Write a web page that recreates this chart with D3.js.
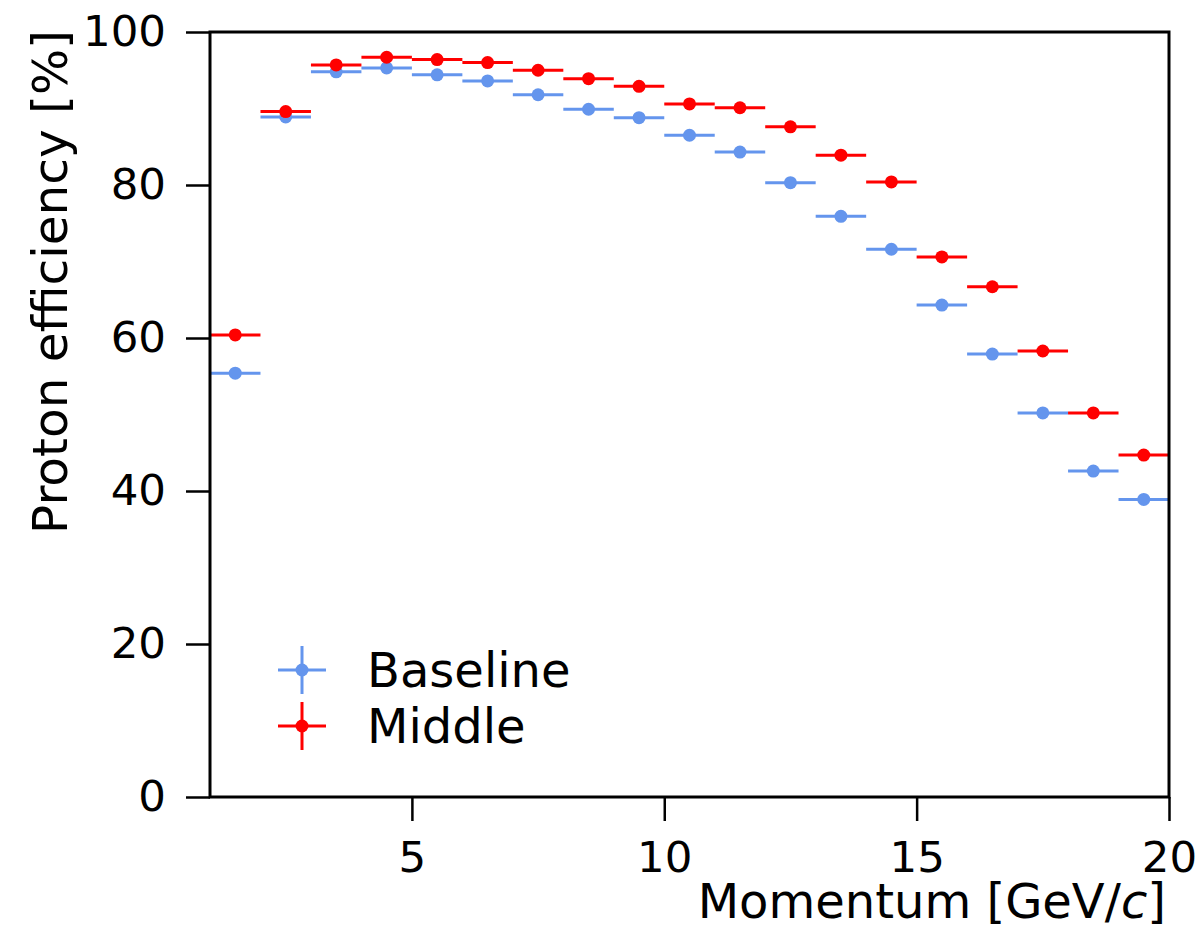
<!DOCTYPE html>
<html>
<head>
<meta charset="utf-8">
<script src="https://cdn.jsdelivr.net/npm/d3@7"></script>
<style>
  html, body { margin: 0; padding: 0; background: #fff; }
  svg { display: block; font-family: "DejaVu Sans", sans-serif; }
</style>
</head>
<body>
<svg id="chart" width="1203" height="930"></svg>
<script>
// Momentum bin centres [GeV/c]; each bin is 1 GeV/c wide
const momentum = [1.5, 2.5, 3.5, 4.5, 5.5, 6.5, 7.5, 8.5, 9.5, 10.5,
                  11.5, 12.5, 13.5, 14.5, 15.5, 16.5, 17.5, 18.5, 19.5];
const binHalfWidth = 0.5;

// Proton efficiency [%] per bin
const baseline = [55.4, 88.9, 94.8, 95.3, 94.4, 93.6, 91.8, 89.9, 88.8, 86.5,
                  84.3, 80.3, 75.9, 71.6, 64.3, 57.9, 50.2, 42.6, 38.9];
const middle   = [60.4, 89.6, 95.7, 96.7, 96.4, 96.0, 95.0, 93.9, 92.9, 90.6,
                  90.1, 87.6, 83.9, 80.4, 70.6, 66.7, 58.3, 50.2, 44.7];

const xTicks = [5, 10, 15, 20];
const yTicks = [0, 20, 40, 60, 80, 100];

const series = [
  { name: "Baseline", values: baseline, color: "#6495ED" },
  { name: "Middle",   values: middle,   color: "#FF0000" }
];

const svg = d3.select("#chart");
const plot = { left: 210, right: 1169, top: 32, bottom: 797 };

const x = d3.scaleLinear().domain([1, 20]).range([plot.left, plot.right]);
const y = d3.scaleLinear().domain([0, 100]).range([plot.bottom, plot.top]);

// Axes
const xAxis = svg.append("g")
  .attr("transform", `translate(0,${plot.bottom})`)
  .call(d3.axisBottom(x).tickValues(xTicks).tickFormat(d3.format("d"))
        .tickSize(24).tickPadding(20));
const yAxis = svg.append("g")
  .attr("transform", `translate(${plot.left},0)`)
  .call(d3.axisLeft(y).tickValues(yTicks).tickFormat(d3.format("d"))
        .tickSize(24).tickPadding(20));

[xAxis, yAxis].forEach(g => {
  g.select(".domain").remove();
  g.selectAll(".tick line").attr("stroke", "#000").attr("stroke-width", 2.5);
  g.selectAll(".tick text").attr("fill", "#000")
    .style("font-family", "'DejaVu Sans', sans-serif").style("font-size", "43.5px");
});

// Data: horizontal bin-width bars with a dot at each bin centre
series.forEach(s => {
  const g = svg.append("g").attr("class", "series");
  const pts = momentum.map((m, i) => ({ m, v: s.values[i] }));
  g.selectAll("line.xerr").data(pts).join("line")
    .attr("class", "xerr")
    .attr("x1", d => x(d.m - binHalfWidth))
    .attr("x2", d => x(d.m + binHalfWidth))
    .attr("y1", d => y(d.v))
    .attr("y2", d => y(d.v))
    .attr("stroke", s.color)
    .attr("stroke-width", 3);
  g.selectAll("circle").data(pts).join("circle")
    .attr("cx", d => x(d.m))
    .attr("cy", d => y(d.v))
    .attr("r", 6.5)
    .attr("fill", s.color);
});

// Frame around the plotting area
svg.append("rect")
  .attr("x", plot.left).attr("y", plot.top)
  .attr("width", plot.right - plot.left)
  .attr("height", plot.bottom - plot.top)
  .attr("fill", "none").attr("stroke", "#000").attr("stroke-width", 3);

// Axis titles (aligned to the far end of each axis)
const xLabel = svg.append("text")
  .attr("x", plot.right - 3).attr("y", 918)
  .attr("text-anchor", "end")
  .style("font-size", "48px").attr("fill", "#000");
xLabel.append("tspan").text("Momentum [GeV/");
xLabel.append("tspan").style("font-style", "italic").text("c");
xLabel.append("tspan").text("]");

svg.append("text")
  .attr("transform", `translate(67,${plot.top - 2}) rotate(-90)`)
  .attr("text-anchor", "end")
  .style("font-size", "48.5px").attr("fill", "#000")
  .text("Proton efficiency [%]");

// Legend with error-bar style handles
const legend = svg.append("g").attr("class", "legend");
series.forEach((s, i) => {
  const cy = 670 + i * 56;
  const cx = 302;
  const item = legend.append("g");
  item.append("line")
    .attr("x1", cx - 24).attr("x2", cx + 24).attr("y1", cy).attr("y2", cy)
    .attr("stroke", s.color).attr("stroke-width", 3);
  item.append("line")
    .attr("x1", cx).attr("x2", cx).attr("y1", cy - 24).attr("y2", cy + 24)
    .attr("stroke", s.color).attr("stroke-width", 3);
  item.append("circle")
    .attr("cx", cx).attr("cy", cy).attr("r", 6.5).attr("fill", s.color);
  item.append("text")
    .attr("x", 367).attr("y", cy + 17)
    .style("font-size", "48px").attr("fill", "#000")
    .text(s.name);
});
</script>
</body>
</html>
